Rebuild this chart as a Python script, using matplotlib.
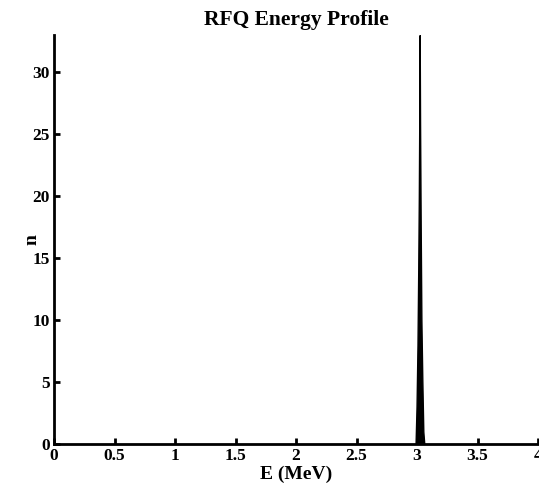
import numpy as np
import matplotlib
matplotlib.use('Agg')
import matplotlib.pyplot as plt

# energy bins (MeV) and counts of the spike near 3 MeV
energy = [2.988, 2.996, 3.004, 3.010, 3.015, 3.019, 3.022, 3.025, 3.030, 3.036, 3.044, 3.052, 3.060]
counts = [0, 3, 8, 14, 20, 27, 33, 26, 18, 10, 5, 1, 0]
xticks = [0, 0.5, 1, 1.5, 2, 2.5, 3, 3.5, 4]
xticklabels = ['0', '0.5', '1', '1.5', '2', '2.5', '3', '3.5', '4']
yticks = [0, 5, 10, 15, 20, 25, 30]

plt.rcParams['font.family'] = ['Liberation Serif', 'DejaVu Serif']
plt.rcParams['font.weight'] = 'bold'

fig = plt.figure(figsize=(5.39, 4.87), dpi=100)
ax = fig.add_axes([0.1002, 0.0883, 0.898, 0.8397])

ax.fill_between(energy, counts, 0, color='black', linewidth=1.0)

ax.set_xlim(0, 4)
ax.set_ylim(0, 33)
ax.set_xticks(xticks)
ax.set_xticklabels(xticklabels)
ax.set_yticks(yticks)

for s in ['top', 'right']:
    ax.spines[s].set_visible(False)
for s in ['left', 'bottom']:
    ax.spines[s].set_linewidth(2)
ax.tick_params(direction='in', length=4, width=2, labelsize=12.5, pad=3)
for lab in ax.get_xticklabels() + ax.get_yticklabels():
    lab.set_fontweight('bold')

ax.set_title('RFQ Energy Profile', fontsize=15.5, fontweight='bold', pad=7)
ax.set_xlabel('E (MeV)', fontsize=14, fontweight='bold', labelpad=1)
ax.set_ylabel('n', fontsize=14, fontweight='bold', labelpad=-6)

fig.savefig('out.png', dpi=100)
